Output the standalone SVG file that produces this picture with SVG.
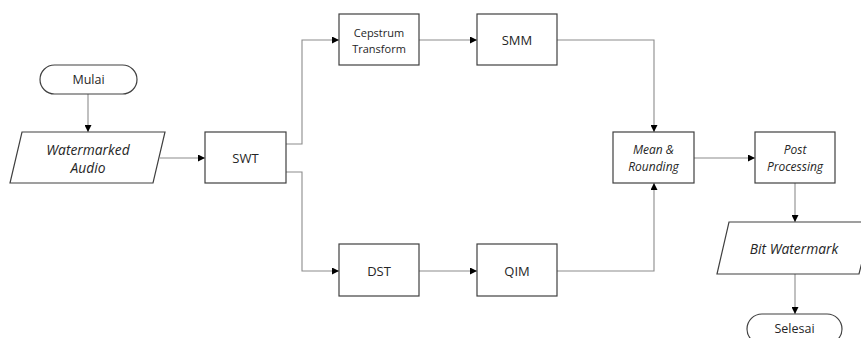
<svg xmlns="http://www.w3.org/2000/svg" width="861" height="338" viewBox="0 0 861 338">
<style>
.box{fill:#fff;stroke:#404040;stroke-width:1.2}
.t{font-family:"Open Sans","Noto Sans",sans-serif;font-size:13px;fill:#262626;text-anchor:middle}
.m{font-size:12.5px}
.s{font-size:11px}
.p{font-size:12px}
.l{font-size:13.8px}
.i{font-style:italic}
.c{fill:none;stroke:#8c8c8c;stroke-width:1.1}
</style>
<defs>
<marker id="a" viewBox="0 0 10 10" refX="10" refY="5" markerWidth="7" markerHeight="7" orient="auto" markerUnits="userSpaceOnUse">
<path d="M0,0 L10,5 L0,10 z" fill="#000"/>
</marker>
</defs>
<rect width="861" height="338" fill="#fff"/>
<g id="connectors">
<path class="c" d="M88,94 V132" marker-end="url(#a)"/>
<path class="c" d="M160,158 H205" marker-end="url(#a)"/>
<path class="c" d="M286,144 H302 V40 H339" marker-end="url(#a)"/>
<path class="c" d="M286,172 H302 V271 H339" marker-end="url(#a)"/>
<path class="c" d="M419,40 H477" marker-end="url(#a)"/>
<path class="c" d="M419,271 H477" marker-end="url(#a)"/>
<path class="c" d="M557,40 H654 V132" marker-end="url(#a)"/>
<path class="c" d="M557,271 H654 V183" marker-end="url(#a)"/>
<path class="c" d="M694,158 H755" marker-end="url(#a)"/>
<path class="c" d="M795,183 V222" marker-end="url(#a)"/>
<path class="c" d="M795,274 V314" marker-end="url(#a)"/>
</g>
<g id="mulai">
<rect class="box" x="40" y="65" width="97" height="29" rx="14.5"/>
<text class="t m" x="88.5" y="84">Mulai</text>
</g>
<g id="watermarked-audio">
<polygon class="box" points="22,132 165,132 153,183 10,183"/>
<text class="t l i" x="88" y="155">Watermarked</text>
<text class="t l i" x="88" y="173">Audio</text>
</g>
<g id="swt">
<rect class="box" x="205" y="132" width="81" height="51"/>
<text class="t" x="245.5" y="162.5">SWT</text>
</g>
<g id="cepstrum">
<rect class="box" x="339" y="14" width="80" height="51"/>
<text class="t s" x="379" y="37">Cepstrum</text>
<text class="t s" x="379" y="52.5">Transform</text>
</g>
<g id="smm">
<rect class="box" x="477" y="14" width="80" height="51"/>
<text class="t" x="517" y="44.5">SMM</text>
</g>
<g id="dst">
<rect class="box" x="339" y="244" width="80" height="52"/>
<text class="t" x="379" y="275.5">DST</text>
</g>
<g id="qim">
<rect class="box" x="477" y="244" width="80" height="52"/>
<text class="t" x="517" y="275.5">QIM</text>
</g>
<g id="mean-rounding">
<rect class="box" x="613" y="132" width="81" height="51"/>
<text class="t p i" x="653.5" y="154">Mean &amp;</text>
<text class="t p i" x="653.5" y="170.5">Rounding</text>
</g>
<g id="post-processing">
<rect class="box" x="755" y="132" width="80" height="51"/>
<text class="t p i" x="795" y="154">Post</text>
<text class="t p i" x="795" y="170.5">Processing</text>
</g>
<g id="bit-watermark">
<polygon class="box" points="729,222 872,222 859,274 717,274"/>
<text class="t l i" x="794" y="254">Bit Watermark</text>
</g>
<g id="selesai">
<rect class="box" x="747" y="314" width="95" height="30" rx="15"/>
<text class="t m" x="794.5" y="333">Selesai</text>
</g>
</svg>
